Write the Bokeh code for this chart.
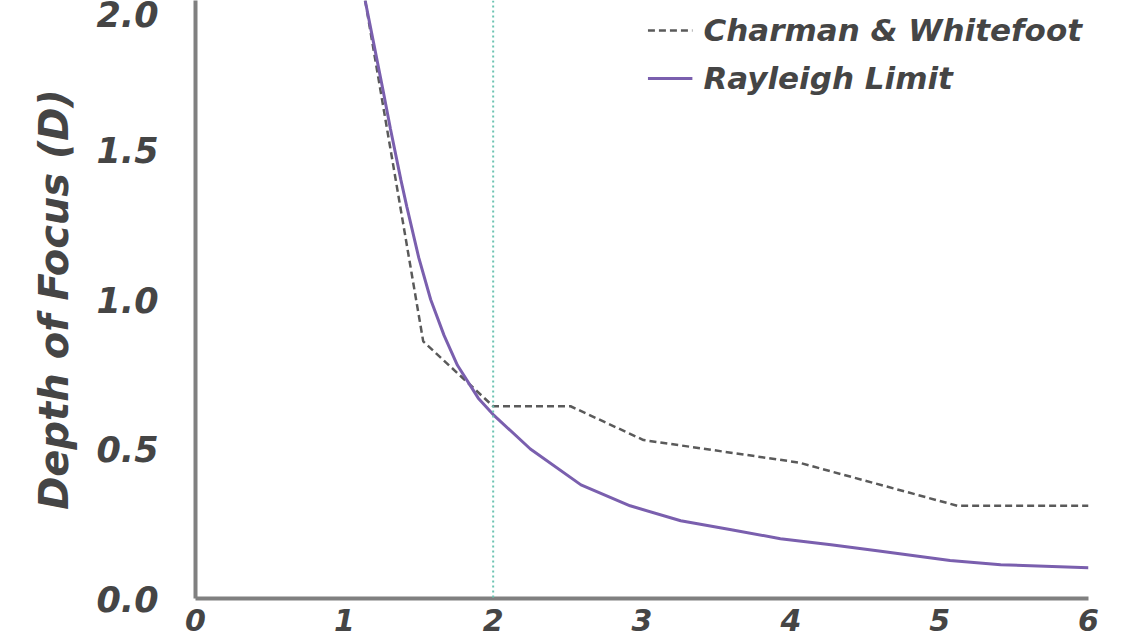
from bokeh.plotting import figure
from bokeh.models import Range1d, FixedTicker, Legend, LegendItem, Span
from bokeh.embed import file_html
from bokeh.resources import INLINE

# Data
rayleigh_x = [1.14, 1.20, 1.26, 1.31, 1.38, 1.42, 1.50, 1.58, 1.67, 1.76, 1.90, 2.00,
              2.25, 2.59, 2.92, 3.26, 3.60, 3.93, 4.27, 4.58, 5.07, 5.41, 6.00]
rayleigh_y = [2.00, 1.85, 1.70, 1.57, 1.40, 1.31, 1.14, 1.00, 0.88, 0.78, 0.67, 0.615,
              0.50, 0.38, 0.31, 0.26, 0.23, 0.20, 0.18, 0.16, 0.127, 0.113, 0.103]

charman_x = [1.14, 1.53, 2.00, 2.52, 3.01, 4.05, 5.12, 6.00]
charman_y = [2.00, 0.86, 0.643, 0.643, 0.53, 0.455, 0.31, 0.31]

marker_x = 2.0

x_ticks = [0, 1, 2, 3, 4, 5, 6]
y_ticks = [0.0, 0.5, 1.0, 1.5, 2.0]
y_tick_labels = {0.0: "0.0", 0.5: "0.5", 1.0: "1.0", 1.5: "1.5", 2.0: "2.0"}

FONT = "DejaVu Sans"
TXT = "#454545"

p = figure(width=1130, height=640, output_backend="svg", toolbar_location=None,
           x_range=Range1d(0, 6), y_range=Range1d(0, 2.0),
           min_border_left=195, min_border_right=42, min_border_top=0, min_border_bottom=42)
p.frame_width = 893
p.frame_height = 598

p.background_fill_color = "white"
p.border_fill_color = "white"
p.outline_line_color = None
p.grid.grid_line_color = None

for ax in (p.xaxis[0], p.yaxis[0]):
    ax.axis_line_color = "#808080"
    ax.axis_line_width = 4
    ax.major_tick_line_color = None
    ax.minor_tick_line_color = None
    ax.major_label_text_font = FONT
    ax.major_label_text_font_style = "bold italic"
    ax.major_label_text_color = TXT

p.xaxis.ticker = FixedTicker(ticks=x_ticks)
p.xaxis.major_label_standoff = 4
p.xaxis.major_label_text_font_size = "30px"
p.yaxis.ticker = FixedTicker(ticks=y_ticks)
p.yaxis.major_label_overrides = y_tick_labels
p.yaxis.major_label_standoff = 31
p.yaxis.major_label_text_font_size = "35px"

p.yaxis.axis_label = "Depth of Focus (D)"
p.yaxis.axis_label_text_font = FONT
p.yaxis.axis_label_text_font_style = "bold italic"
p.yaxis.axis_label_text_font_size = "40px"
p.yaxis.axis_label_text_color = TXT
p.yaxis.axis_label_standoff = 16

vline = Span(location=marker_x, dimension="height", line_color="#6cc4b2",
             line_width=2, line_dash="2 3")
p.add_layout(vline)

r_ch = p.line(charman_x, charman_y, line_color="#5a5a5a", line_width=2.5, line_dash="7 4")
r_ra = p.line(rayleigh_x, rayleigh_y, line_color="#7a5fae", line_width=3)

legend = Legend(items=[LegendItem(label="Charman & Whitefoot", renderers=[r_ch]),
                       LegendItem(label="Rayleigh Limit", renderers=[r_ra])],
                location="top_right")
legend.border_line_color = None
legend.background_fill_alpha = 0
legend.label_text_font = FONT
legend.label_text_font_style = "bold italic"
legend.label_text_font_size = "31px"
legend.label_text_color = TXT
legend.glyph_width = 45
legend.glyph_height = 48
legend.label_height = 48
legend.spacing = 0
legend.label_standoff = 11
legend.margin = 6
legend.padding = 0
p.add_layout(legend)

open("out.html", "w").write(file_html(p, INLINE))
